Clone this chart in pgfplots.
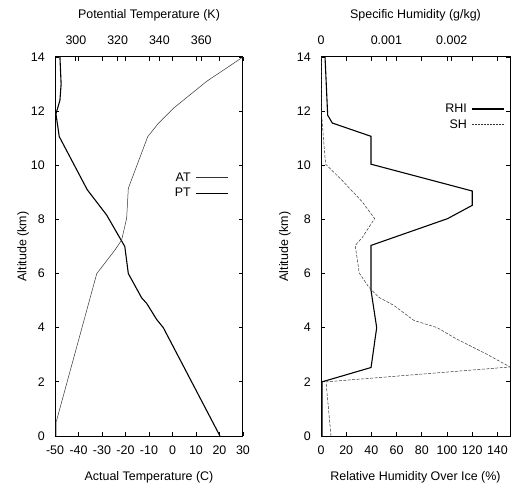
\documentclass[border=0pt]{standalone}
\usepackage{fontspec}
\setmainfont{Liberation Sans}
\usepackage{pgfplots}
\pgfplotsset{compat=1.18}
\begin{document}
\begin{tikzpicture}
\useasboundingbox (0,0) rectangle (511bp,488bp);
\pgfplotsset{
  common/.style={scale only axis, width=188bp, height=379bp, ymin=0, ymax=14,
    anchor=south west, tick align=inside, major tick length=4bp,
    tick style={line width=0.8pt, black},
    font=\fontsize{12.5}{14}\selectfont,
    axis line style={line width=1pt},
    scaled x ticks=false,
    ytick={0,2,4,6,8,10,12,14},
    yticklabels={0,2,4,6,8,10,12,14},
    yticklabel style={anchor=east, inner sep=0pt, xshift=-10bp},
    legend image code/.code={\draw[##1] (0bp,0bp) -- (32bp,0bp);},
  },
  bottomx/.style={xtick pos=both, xticklabel pos=bottom, ytick pos=both, yticklabel pos=left,
    xticklabel style={anchor=base, inner sep=0pt, yshift=-18.5bp},
    xlabel style={at={(axis description cs:0.5,0)}, anchor=base, inner sep=0pt, yshift=-44bp},
  },
  topx/.style={axis x line*=top, axis y line=none,
    xticklabel style={anchor=base, inner sep=0pt, yshift=12bp},
    xlabel style={at={(axis description cs:0.5,1)}, anchor=base, inner sep=0pt, yshift=38bp},
  },
  leg/.style={legend plot pos=right, legend cell align=right,
    legend style={draw=none, fill=none, font=\fontsize{12.5}{13}\selectfont,
      row sep=1.5pt, inner sep=0pt, column sep=3pt}},
  thinline/.style={black!80, line width=0.5pt},
  thickline/.style={black, line width=1.1pt},
}
% ---------- LEFT PANEL ----------
\begin{axis}[common, bottomx, at={(55bp,52bp)}, xmin=-50, xmax=30,
  xtick={-50,-40,-30,-20,-10,0,10,20,30},
  xticklabels={-50,-40,-30,-20,-10,0,10,20,30},
  xlabel={Actual Temperature (C)}, ylabel={Altitude (km)},
  ylabel style={at={(axis description cs:-0.170,0.5)}, anchor=center}]
\addplot[thickline] coordinates {
 (20.2,0) (-3.9,4.0) (-6.7,4.3) (-11,4.9) (-13.1,5.1) (-18.8,6.0)
 (-20.3,7.0) (-28,8.16) (-36.3,9.1) (-48.2,11.06) (-49.6,11.9)
 (-47.9,12.4) (-47.4,13.0) (-47.9,14)};
\end{axis}
\begin{axis}[common, topx, leg, at={(55bp,52bp)}, xmin=290, xmax=380,
  xtick={300,320,340,360}, xticklabels={300,320,340,360},
  xlabel={Potential Temperature (K)},
  legend style={at={(0.9255,0.661)}, anchor=east}]
\addlegendimage{thinline}
\addlegendentry{AT}
\addlegendimage{thickline}
\addlegendentry{PT}
\addplot[thinline, forget plot] coordinates {
 (290.5,0) (290.5,0.5) (310,6.0) (318.7,6.87) (321.9,7.24) (324.3,8.04)
 (325.1,9.15) (334.4,11.06) (339.5,11.55) (346.6,12.1) (362.6,13.1) (380,14)};
\end{axis}
% ---------- RIGHT PANEL ----------
\begin{axis}[common, bottomx, at={(321bp,52bp)}, width=189bp, xmin=0, xmax=150,
  xtick={0,20,40,60,80,100,120,140},
  xticklabels={0,20,40,60,80,100,120,140},
  xlabel={Relative Humidity Over Ice (\%)}, ylabel={Altitude (km)},
  ylabel style={at={(axis description cs:-0.1905,0.5)}, anchor=center}]
\addplot[thickline] coordinates {
 (0.8,0) (0.8,2.0) (39.7,2.53) (44.2,4.0) (39.7,5.38) (39.7,7.04)
 (100.5,8.03) (120,8.52) (120,9.05) (39.7,10.04) (39.7,11.07)
 (9,11.56) (5.3,11.85) (3.2,14)};
\end{axis}
\begin{axis}[common, topx, leg, at={(321bp,52bp)}, width=189bp, xmin=0, xmax=0.00289,
  xtick={0,0.001,0.002}, xticklabels={0,0.001,0.002},
  xlabel={Specific Humidity (g/kg)},
  legend style={at={(0.974,0.842)}, anchor=east}]
\addlegendimage{thickline}
\addlegendentry{RHI}
\addlegendimage{thinline, dash pattern=on 2pt off 1pt}
\addlegendentry{SH}
\addplot[thinline, dash pattern=on 3pt off 1.5pt, forget plot] coordinates {
 (0.000153,0) (0.0000765,2.0) (0.00289,2.55) (0.00252,3.04) (0.00206,3.6)
 (0.00178,4.0) (0.00142,4.27) (0.00111,4.83) (0.00088,5.13) (0.00073,5.5)
 (0.000585,6.02) (0.000523,7.04) (0.00063,7.33) (0.00082,8.03)
 (0.00063,8.65) (0.00032,9.45) (0.00007,10.04) (0.00004,10.92)
 (0.00001,11.85) (0.00001,14)};
\end{axis}
\end{tikzpicture}
\end{document}
